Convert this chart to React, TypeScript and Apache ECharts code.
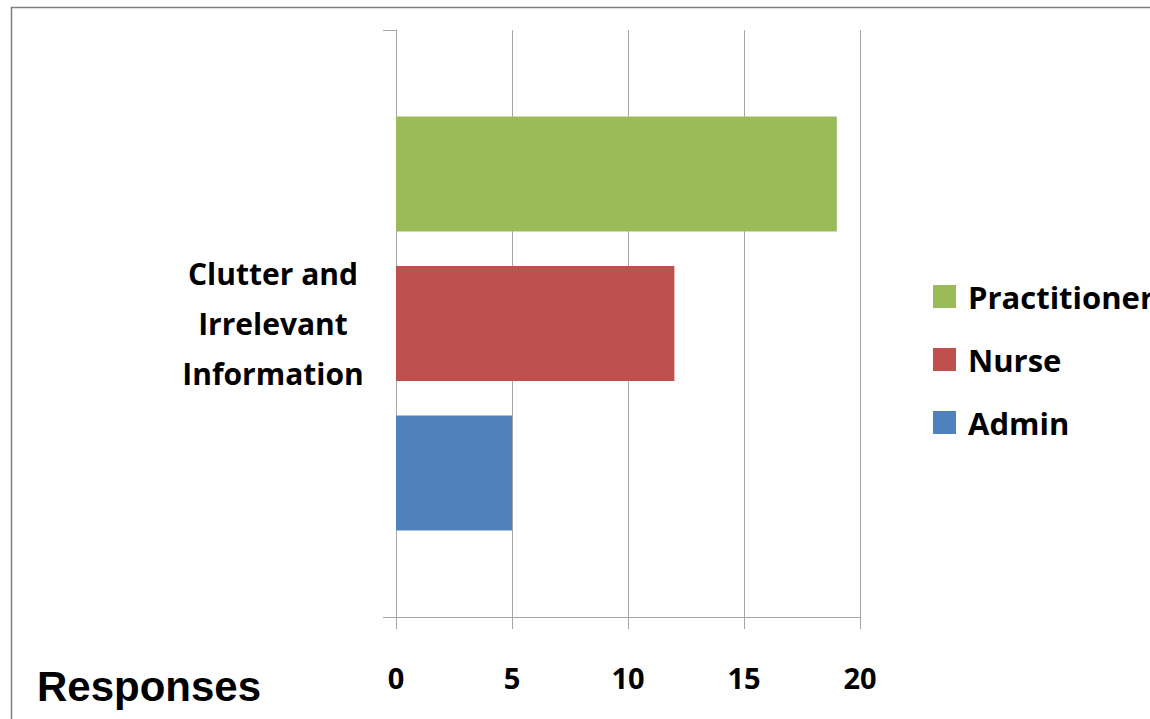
import React, { useEffect, useRef } from "react";
import * as echarts from "echarts";

const categories = ["Clutter and\nIrrelevant\nInformation"];
const seriesNames = ["Practitioner", "Nurse", "Admin"];
const practitionerValues = [19];
const nurseValues = [12];
const adminValues = [5];
const seriesColors = ["#9BBB59", "#C0504D", "#4F81BD"];
const legendOrder = ["Practitioner", "Nurse", "Admin"];
const xAxisName = "Responses";

export default function App() {
  const ref = useRef<HTMLDivElement>(null);
  useEffect(() => {
    if (!ref.current) return;
    const chart = echarts.init(ref.current, null, { renderer: "svg" });
    const font = "'Open Sans', Lato, sans-serif";
    const values = [practitionerValues, nurseValues, adminValues];
    chart.setOption({
      animation: false,
      backgroundColor: "#ffffff",
      grid: { left: 396, right: 290, top: 30, bottom: 102, containLabel: false },
      legend: {
        data: legendOrder,
        orient: "vertical",
        left: 928,
        top: 276,
        itemWidth: 23,
        itemHeight: 23,
        itemGap: 32,
        icon: "rect",
        textStyle: {
          fontFamily: font,
          fontSize: 31,
          fontWeight: "bold",
          color: "#000",
          lineHeight: 30,
          padding: [0, 0, 0, 7],
        },
      },
      xAxis: {
        type: "value",
        min: 0,
        max: 20,
        interval: 5,
        axisLine: { show: true, lineStyle: { color: "#A6A6A6", width: 1 } },
        axisTick: { show: true, length: 12, inside: false, lineStyle: { color: "#A6A6A6" } },
        splitLine: { show: true, lineStyle: { color: "#A6A6A6", width: 1 } },
        axisLabel: {
          margin: 46,
          fontFamily: font,
          fontSize: 29,
          fontWeight: "bold",
          color: "#000",
        },
      },
      yAxis: {
        type: "category",
        inverse: true,
        data: categories,
        axisLine: { show: true, lineStyle: { color: "#A6A6A6", width: 1 } },
        axisTick: { show: true, length: 13, lineStyle: { color: "#A6A6A6" } },
        axisLabel: {
          margin: 123,
          fontFamily: font,
          fontSize: 30,
          fontWeight: "bold",
          color: "#000",
          lineHeight: 50,
          align: "center",
        },
      },
      series: seriesNames.map((name, i) => ({
        name,
        type: "bar",
        data: values[i],
        barWidth: 115,
        barGap: "30%",
        itemStyle: { color: seriesColors[i] },
      })),
      graphic: [
        {
          type: "rect",
          shape: { x: 11.5, y: 7.5, width: 1300, height: 900 },
          style: { fill: "none", stroke: "#7F7F7F", lineWidth: 1.5 },
          silent: true,
        },
        {
          type: "text",
          left: 37,
          top: 665,
          style: {
            text: xAxisName,
            font: "bold 42px 'Liberation Sans', Arial, sans-serif",
            fill: "#000",
          },
        },
      ],
    });
    return () => chart.dispose();
  }, []);
  return (
    <div
      ref={ref}
      style={{ position: "fixed", left: 0, top: 0, width: 1150, height: 719 }}
    />
  );
}
